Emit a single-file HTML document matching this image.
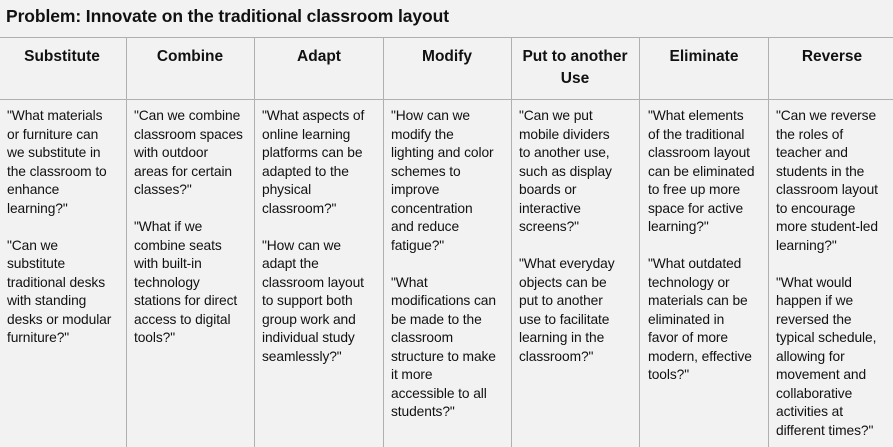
<!DOCTYPE html>
<html><head><meta charset="utf-8"><style>
body{margin:0;width:893px;height:447px;background:#f2f2f2;font-family:"Liberation Sans",sans-serif;color:#111;position:relative;overflow:hidden}
.t{position:absolute;left:6px;top:6px;font-size:17.5px;font-weight:bold;letter-spacing:-0.1px}
.hl{position:absolute;left:0;width:893px;height:1px;background:#b0b0b0}
.vl{position:absolute;top:37px;width:1px;height:410px;background:#b0b0b0}
.h{position:absolute;top:46px;font-size:15.5px;font-weight:bold;text-align:center;line-height:22px;width:128px}
.c{position:absolute;top:107px;font-size:13.8px;line-height:18.5px;white-space:nowrap;letter-spacing:-0.1px}
</style></head><body>
<div class="t">Problem: Innovate on the traditional classroom layout</div>
<div class="hl" style="top:37px"></div>
<div class="hl" style="top:99px"></div>
<div class="vl" style="left:126px"></div>
<div class="vl" style="left:254px"></div>
<div class="vl" style="left:383px"></div>
<div class="vl" style="left:511px"></div>
<div class="vl" style="left:639px"></div>
<div class="vl" style="left:768px"></div>
<div class="h" style="left:-2px">Substitute</div>
<div class="h" style="left:126px">Combine</div>
<div class="h" style="left:255px">Adapt</div>
<div class="h" style="left:383px">Modify</div>
<div class="h" style="left:511px">Put to another<br>Use</div>
<div class="h" style="left:640px">Eliminate</div>
<div class="h" style="left:768px">Reverse</div>
<div class="c" style="left:7px">"What materials<br>or furniture can<br>we substitute in<br>the classroom to<br>enhance<br>learning?"<br><br>"Can we<br>substitute<br>traditional desks<br>with standing<br>desks or modular<br>furniture?"</div>
<div class="c" style="left:134px">"Can we combine<br>classroom spaces<br>with outdoor<br>areas for certain<br>classes?"<br><br>"What if we<br>combine seats<br>with built-in<br>technology<br>stations for direct<br>access to digital<br>tools?"</div>
<div class="c" style="left:262px">"What aspects of<br>online learning<br>platforms can be<br>adapted to the<br>physical<br>classroom?"<br><br>"How can we<br>adapt the<br>classroom layout<br>to support both<br>group work and<br>individual study<br>seamlessly?"</div>
<div class="c" style="left:391px">"How can we<br>modify the<br>lighting and color<br>schemes to<br>improve<br>concentration<br>and reduce<br>fatigue?"<br><br>"What<br>modifications can<br>be made to the<br>classroom<br>structure to make<br>it more<br>accessible to all<br>students?"</div>
<div class="c" style="left:519px">"Can we put<br>mobile dividers<br>to another use,<br>such as display<br>boards or<br>interactive<br>screens?"<br><br>"What everyday<br>objects can be<br>put to another<br>use to facilitate<br>learning in the<br>classroom?"</div>
<div class="c" style="left:648px">"What elements<br>of the traditional<br>classroom layout<br>can be eliminated<br>to free up more<br>space for active<br>learning?"<br><br>"What outdated<br>technology or<br>materials can be<br>eliminated in<br>favor of more<br>modern, effective<br>tools?"</div>
<div class="c" style="left:776px">"Can we reverse<br>the roles of<br>teacher and<br>students in the<br>classroom layout<br>to encourage<br>more student-led<br>learning?"<br><br>"What would<br>happen if we<br>reversed the<br>typical schedule,<br>allowing for<br>movement and<br>collaborative<br>activities at<br>different times?"</div>
</body></html>
